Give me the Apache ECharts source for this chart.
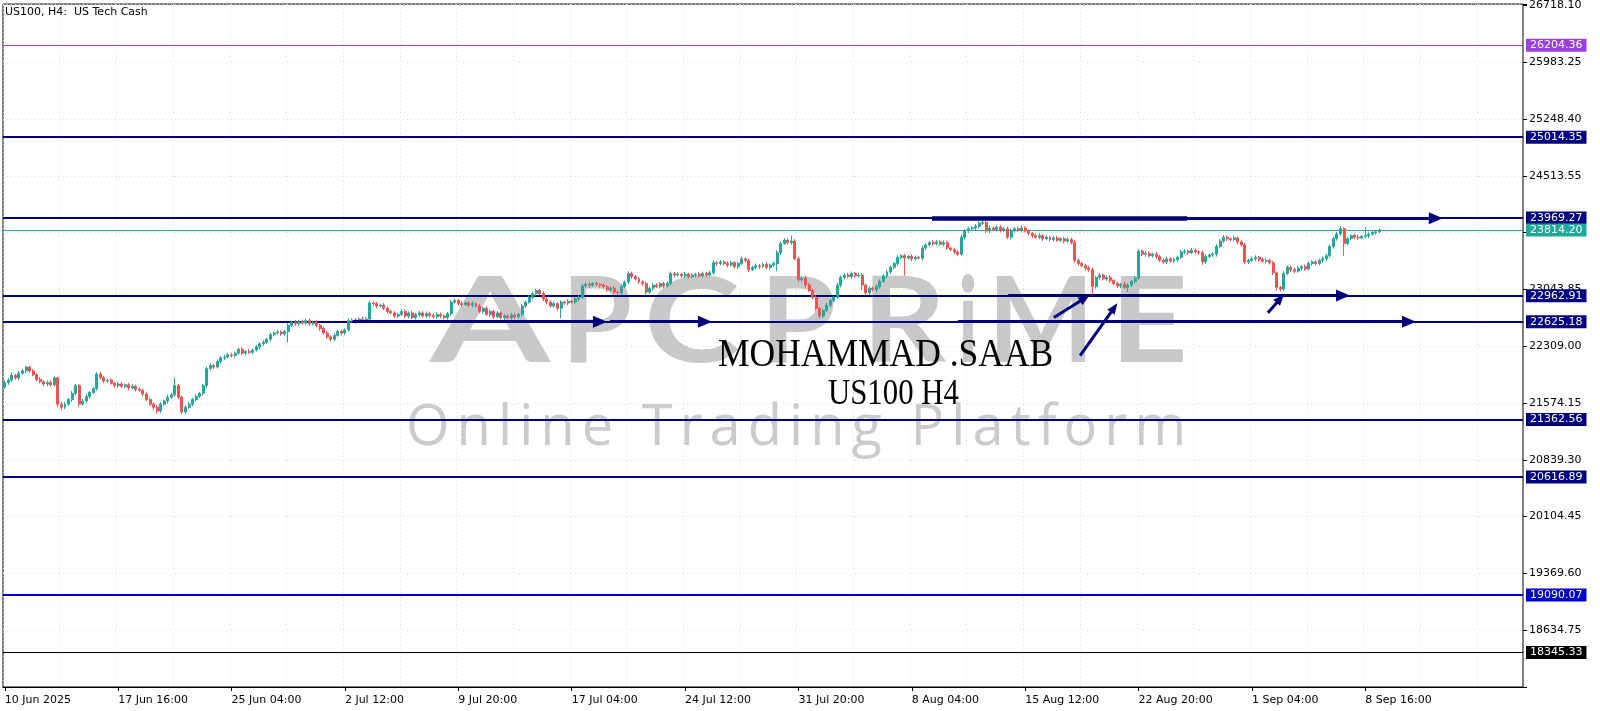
<!DOCTYPE html>
<html><head><meta charset="utf-8">
<script src="https://cdn.jsdelivr.net/npm/echarts@6/dist/echarts.min.js"></script>
<style>html,body{margin:0;padding:0;background:#fff}#c{width:1600px;height:711px}</style>
</head><body><div id="c"></div><script>
// ---------- DATA ----------
const firstOpen = 21780;
const closes = [
21840,21870,21930,21900,21960,21990,22040,21990,21940,21880,
21850,21820,21840,21810,21900,21560,21520,21560,21620,21700,
21800,21560,21600,21660,21710,21760,21950,21900,21860,21870,
21830,21800,21820,21790,21810,21770,21790,21750,21740,21690,
21620,21560,21520,21470,21560,21600,21650,21680,21800,21650,
21460,21520,21560,21620,21660,21700,21800,22020,22060,22040,
22110,22160,22170,22200,22190,22220,22270,22220,22240,22230,
22260,22300,22340,22360,22400,22460,22480,22490,22470,22500,
22580,22620,22600,22630,22610,22640,22600,22620,22580,22540,
22480,22430,22400,22450,22500,22480,22520,22640,22650,22630,
22660,22640,22660,22870,22860,22830,22840,22800,22760,22740,
22700,22720,22760,22700,22740,22680,22720,22740,22700,22730,
22710,22690,22720,22700,22680,22730,22880,22900,22860,22850,
22870,22840,22860,22830,22760,22800,22720,22760,22690,22740,
22680,22700,22680,22710,22690,22720,22830,22880,22940,22990,
23030,22990,22920,22880,22830,22860,22800,22880,22870,22890,
22880,22920,22940,23090,23110,23100,23120,23110,23100,23080,
23040,23060,23010,23000,23080,23140,23250,23210,23180,23140,
23120,23010,23060,23100,23080,23120,23090,23120,23250,23230,
23240,23220,23240,23210,23230,23240,23220,23250,23230,23260,
23390,23380,23400,23380,23360,23390,23340,23380,23440,23420,
23300,23330,23350,23340,23370,23330,23360,23380,23520,23640,
23680,23650,23670,23440,23170,23190,23100,23030,22940,22800,
22700,22770,22840,22900,22940,23100,23200,23230,23210,23250,
23220,23230,23100,23000,23060,23040,23080,23150,23220,23270,
23330,23380,23460,23480,23450,23470,23440,23460,23450,23580,
23620,23650,23640,23660,23630,23650,23580,23560,23530,23500,
23720,23800,23830,23840,23860,23900,23910,23800,23840,23820,
23850,23810,23830,23720,23800,23830,23810,23840,23800,23770,
23740,23720,23740,23700,23720,23690,23710,23680,23700,23670,
23690,23650,23420,23380,23350,23320,23300,23080,23200,23230,
23180,23200,23160,23120,23090,23110,23070,23100,23150,23190,
23540,23500,23510,23480,23500,23470,23420,23400,23440,23410,
23430,23460,23530,23540,23520,23550,23530,23520,23400,23470,
23490,23500,23600,23670,23720,23700,23690,23710,23660,23620,
23400,23420,23440,23460,23430,23410,23420,23390,23260,23070,
23050,23250,23330,23300,23280,23320,23340,23310,23380,23400,
23380,23420,23440,23480,23600,23700,23760,23830,23640,23700,
23740,23720,23710,23730,23740,23760,23780,23790,23814.2
];
const wickUp = [
30,25,40,20,30,25,15,20,25,20, 30,20,25,30,20,15,30,25,20,30,
20,20,25,30,20,25,20,30,25,20, 25,20,30,25,20,25,30,20,25,20,
20,25,20,30,25,20,30,25,100,20, 20,25,30,20,25,20,20,25,30,20,
25,20,30,20,25,20,20,25,20,30, 20,25,20,30,20,25,20,30,25,20,
25,20,30,20,25,20,30,20,25,20, 20,25,20,30,20,25,20,30,20,25,
20,30,25,30,20,25,20,30,25,20, 25,20,30,25,20,30,20,25,20,30,
25,20,30,25,20,25,30,25,20,30, 20,25,30,20,25,20,30,25,20,25,
20,25,20,30,25,20,25,20,30,25, 25,20,30,25,20,30,20,25,20,30,
20,25,30,25,20,30,20,25,20,25, 25,20,30,20,25,20,30,25,20,25,
20,25,20,30,25,20,25,30,25,20, 25,20,30,20,25,20,30,25,20,25,
30,20,25,20,30,25,20,25,30,20, 25,20,30,25,20,30,20,25,30,25,
30,25,70,25,30,20,30,25,20,30, 20,25,30,20,25,30,25,20,30,25,
20,30,25,20,25,20,30,25,20,30, 25,20,30,20,25,20,30,25,20,30,
25,20,30,25,20,30,25,20,25,20, 30,25,20,25,30,20,45,25,30,20,
25,30,20,25,30,20,25,30,20,25, 20,25,30,20,25,20,30,25,20,25,
25,20,30,25,20,25,30,25,20,30, 20,25,30,20,25,20,30,25,20,30,
25,20,30,25,20,30,20,25,30,20, 25,20,30,25,20,30,25,20,30,25,
20,25,30,25,30,20,25,30,20,25, 25,20,30,25,20,25,30,20,25,20,
20,30,25,20,25,30,20,25,30,20, 25,20,30,25,20,25,30,30,20,25,
20,25,30,20,110,25,20,25,20
];
const wickDn = [
25,30,20,25,30,20,25,30,20,25, 20,25,30,20,25,40,40,25,20,30,
25,30,20,25,30,20,25,20,30,25, 20,25,30,20,25,30,20,25,20,30,
25,20,30,30,25,20,30,25,20,25, 30,25,20,30,25,20,30,25,20,30,
20,25,30,20,25,30,20,25,30,20, 25,20,30,25,20,30,25,20,25,30,
140,20,25,30,20,25,30,20,25,30, 20,25,30,25,20,30,25,20,25,30,
20,25,30,20,25,30,20,25,30,20, 25,30,20,25,30,20,25,30,20,25,
30,20,25,30,20,25,30,20,25,30, 20,25,30,20,25,30,20,25,30,20,
25,30,20,25,30,20,25,30,20,25, 30,20,25,30,20,25,30,130,25,30,
20,25,30,20,25,30,20,25,30,20, 25,30,20,25,30,20,25,30,20,25,
30,40,25,30,20,25,30,20,25,30, 20,25,30,20,25,30,20,25,30,20,
25,30,20,25,30,20,25,30,20,25, 30,20,25,30,20,25,30,20,100,25,
20,25,30,20,30,25,30,20,25,30, 30,25,20,30,25,20,30,25,20,30,
25,20,60,30,25,20,30,25,20,30, 25,20,30,25,230,20,30,25,20,30,
25,20,30,25,20,30,25,20,30,25, 20,30,25,20,25,30,20,25,30,20,
25,30,20,25,30,20,25,30,20,25, 30,20,25,30,20,25,30,20,25,30,
20,25,30,25,20,30,25,90,25,30, 20,25,30,20,25,30,20,60,25,30,
20,25,30,20,25,30,20,25,30,20, 25,30,20,25,30,20,25,30,40,25,
20,25,30,20,25,30,20,25,30,20, 30,25,20,30,25,20,30,25,30,40,
30,25,20,30,25,20,30,25,20,30, 25,20,30,25,20,30,25,20,160,25,
20,25,30,20,25,30,20,25,20
];
const timeLabels = ['10 Jun 2025','17 Jun 16:00','25 Jun 04:00','2 Jul 12:00','9 Jul 20:00','17 Jul 04:00','24 Jul 12:00','31 Jul 20:00','8 Aug 04:00','15 Aug 12:00','22 Aug 20:00','1 Sep 04:00','8 Sep 16:00'];
const barsPerLabel = 32;
const totalSlots = 429;
const yMin = 17899.90, yMax = 26736.5, yStep = 734.85, yTopLabel = 26718.10;
const levelPrices = [26204.36, 25014.35, 23969.27, 23814.20, 22962.91, 22625.18, 21362.56, 20616.89, 19090.07, 18345.33];
const levelColors = ['#9a40e0','#000080','#000080','#20a89a','#000080','#000080','#000080','#000080','#0000c8','#000000'];
const levelWidths = [1, 2, 2, 1, 2, 2, 2, 2, 2, 1];
// annotation arrows: [barFrom, priceFrom, barTo, priceTo, width, head]
const arrows = [
  [261.7, 23965, 333.7, 23965, 4.5, 0],
  [261.7, 23965, 403.9, 23965, 3, 1],
  [283.2, 22966, 377.7, 22966, 3, 1],
  [98.3, 22627, 168.0, 22627, 3, 1],
  [170.8, 22627, 197.6, 22627, 3, 1],
  [269.0, 22627, 396.3, 22627, 3, 1],
  [296.1, 22680, 304.8, 22929, 3, 2],
  [303.5, 22189, 313.1, 22807, 3, 2],
  [356.5, 22744, 360.0, 22925, 3, 2]
];

// ---------- BUILD ----------
const ohlc = closes.map((c, i) => {
  const o = i === 0 ? firstOpen : closes[i - 1];
  return [o, c, Math.min(o, c) - wickDn[i], Math.max(o, c) + wickUp[i]];
});
const cats = Array.from({length: totalSlots}, (_, i) =>
  (i % barsPerLabel === 0 && timeLabels[i / barsPerLabel]) ? timeLabels[i / barsPerLabel] : ('b' + i));
const isLabel = i => i % barsPerLabel === 0 && !!timeLabels[i / barsPerLabel];

const FONT = 'DejaVu Sans';
const levelMarks = levelPrices.map((p, i) => ({
  yAxis: p,
  lineStyle: {color: levelColors[i], width: levelWidths[i], type: 'solid'},
  label: {show: true, position: 'end', distance: 3, formatter: p.toFixed(2), color: '#fff',
    backgroundColor: levelColors[i], padding: [1, 4, 0, 4], fontSize: 11, lineHeight: 12, fontFamily: FONT}
}));
const arrowMarks = arrows.map(a => [
  {coord: [a[0], a[1]], symbol: 'none', lineStyle: {width: a[4], color: '#00007a', type: 'solid'}},
  {coord: [a[2], a[3]], symbol: a[5] ? 'triangle' : 'none', symbolSize: a[5] === 1 ? [12, 14] : [9, 11]}
]);

// ---------- DECORATION (watermark / captions) ----------
const mctx = document.createElement('canvas').getContext('2d');
function spaced(text, font, left, right, yMid, color, z) {
  mctx.font = font;
  const chars = [...text];
  const w = chars.map(c => mctx.measureText(c).width);
  const gap = (right - left - w.reduce((a, b) => a + b, 0)) / (chars.length - 1);
  let x = left; const out = [];
  chars.forEach((c, i) => {
    if (c !== ' ') out.push({type: 'text', x: x, y: yMid, z: z, silent: true,
      style: {text: c, font: font, fill: color, align: 'left', verticalAlign: 'middle'}});
    x += w[i] + gap;
  });
  return out;
}
function boxedLetters(list, font, yMid, color, z) {
  mctx.font = font;
  return list.map(([ch, l, r]) => {
    const w = mctx.measureText(ch).width;
    return {type: 'text', x: (l + r) / 2, y: yMid, z: z, silent: true, scaleX: (r - l) / w,
      style: {text: ch, font: font, fill: color, align: 'center', verticalAlign: 'middle'}};
  });
}
const logoLetters = [['A', 430, 550], ['P', 562, 632], ['C', 644, 740], ['P', 760, 836], ['R', 862, 946], ['i', 958, 978], ['M', 988, 1094], ['E', 1110, 1188]];

const graphics = [].concat(
  boxedLetters(logoLetters, 'bold 118px Lato', 324, '#c8c8c8', 1),
  spaced('Online Trading Platform', '400 56px "Open Sans"', 406, 1186, 429, '#cbcbcb', 1),
  [
    {type: 'text', x: 5, y: 12, z: 20, silent: true, style: {text: 'US100, H4:  US Tech Cash', font: '11px "DejaVu Sans"', fill: '#000', align: 'left', verticalAlign: 'middle'}},
    {type: 'text', x: 718, y: 356, scaleX: 0.91, z: 20, silent: true, style: {text: 'MOHAMMAD .SAAB', font: '39px "Liberation Serif"', fill: '#000', align: 'left', verticalAlign: 'middle'}},
    {type: 'text', x: 828, y: 395, scaleX: 0.88, z: 20, silent: true, style: {text: 'US100 H4', font: '35px "Liberation Serif"', fill: '#000', align: 'left', verticalAlign: 'middle'}}
  ]
);

const chart = echarts.init(document.getElementById('c'), null, {renderer: 'canvas'});
chart.setOption({
  animation: false,
  backgroundColor: '#fff',
  grid: {left: 3, right: 77, top: 3, bottom: 24, show: true, borderColor: '#000', borderWidth: 1, backgroundColor: 'transparent'},
  xAxis: [{
    type: 'category', data: cats, boundaryGap: true,
    axisLine: {show: true, onZero: false, lineStyle: {color: '#000'}},
    axisTick: {show: true, alignWithLabel: true, length: 4, interval: (i) => isLabel(i), lineStyle: {color: '#000'}},
    axisLabel: {show: true, interval: (i) => isLabel(i), align: 'left', color: '#000', fontSize: 11, fontFamily: FONT, margin: 8,
      formatter: v => v.charAt(0) === 'b' ? '' : v},
    splitLine: {show: true, interval: (i) => i % (barsPerLabel / 2) === 0, lineStyle: {color: '#dedede', type: [1, 3]}}
  }, {
    type: 'value', min: -0.5, max: totalSlots - 0.5, show: false
  }],
  yAxis: [{
    type: 'value', position: 'right', min: yMin, max: yMax, interval: yStep,
    axisLine: {show: true, onZero: false, lineStyle: {color: '#808080'}},
    axisTick: {show: true, length: 4, lineStyle: {color: '#000'}},
    axisLabel: {color: '#000', fontSize: 11, fontFamily: FONT, margin: 6,
      formatter: v => (v < yMin + 1 || v > yTopLabel + 1) ? '' : v.toFixed(2)},
    splitLine: {show: true, lineStyle: {color: '#dedede', type: [1, 3]}}
  }],
  graphic: graphics,
  series: [
    {type: 'candlestick', xAxisIndex: 0, yAxisIndex: 0, data: ohlc, barWidth: '70%', silent: true, z: 4,
      itemStyle: {color: '#26a69a', color0: '#ef5350', borderColor: '#26a69a', borderColor0: '#ef5350', borderWidth: 1}},
    {type: 'line', xAxisIndex: 1, yAxisIndex: 0, data: [], silent: true, z: 3,
      markLine: {silent: true, symbol: ['none', 'none'], animation: false, z: 3, data: levelMarks}},
    {type: 'line', xAxisIndex: 1, yAxisIndex: 0, data: [], silent: true, z: 5,
      markLine: {silent: true, symbol: ['none', 'triangle'], animation: false, z: 5,
        label: {show: false}, lineStyle: {color: '#00007a', type: 'solid'},
        itemStyle: {color: '#00007a'}, data: arrowMarks}}
  ]
});
</script></body></html>
